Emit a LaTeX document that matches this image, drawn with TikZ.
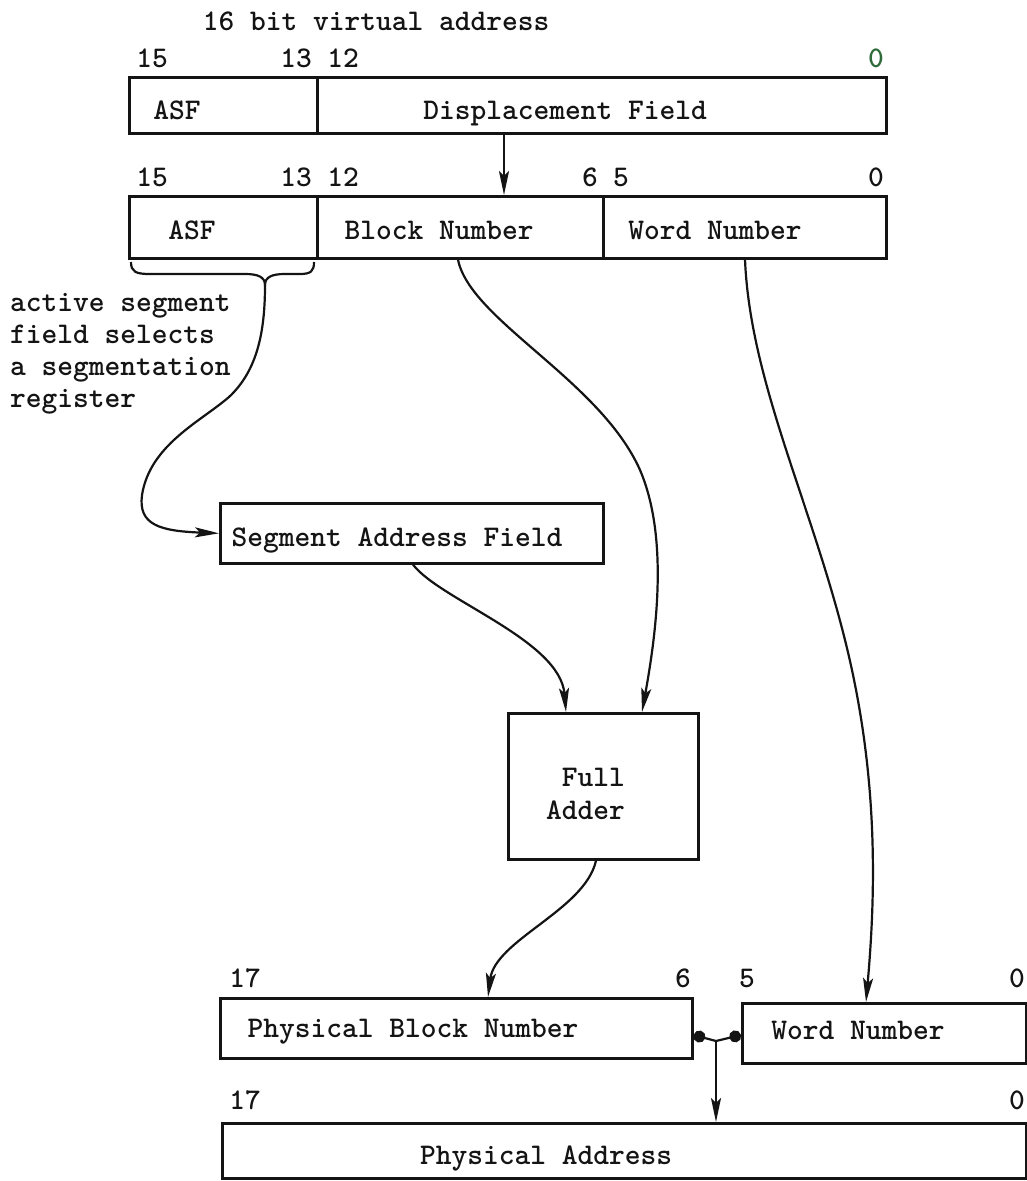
\documentclass[tikz,border=0pt]{standalone}
\usepackage{tikz}
\usepackage{xcolor}
\usetikzlibrary{positioning, arrows.meta, calc}
\definecolor{inkLine} {HTML}{141414}
\definecolor{inkGreen}{HTML}{2F6B3A}
\tikzset{
  regbox/.style={draw=inkLine, line width=2.6pt, inner sep=0pt, anchor=north west},
  lbl/.style={font=\fontsize{30}{33}\selectfont\ttfamily\bfseries, text=inkLine,
              inner sep=0pt, text height=18pt, text depth=0pt},
  flow/.style={draw=inkLine, line width=2.2pt,
               -{Stealth[length=24pt, width=10pt, inset=5pt]}},
}
\begin{document}
\begin{tikzpicture}[x=1pt, y=-1pt]
  \useasboundingbox (0,0) rectangle (1027,1181);
  \node[lbl] (vaTitle) at (376,21) {16 bit virtual address};

  % virtual address as it arrives
  \foreach \x/\b in {152/15, 296/13, 343/12}{
    \node[lbl] (bitA\b) at (\x,58) {\b};
  }
  \node[lbl, text=inkGreen] (bitA0) at (876,58) {0};
  \node[regbox, minimum width=188pt, minimum height=56pt] (asfTop)    at (128,76) {};
  \node[regbox, minimum width=569pt, minimum height=56pt] (dispField) at (316,76) {};
  \node[lbl] (asfTopTxt)  at (177,110) {ASF};
  \node[lbl] (dispTxt)    at (565,110) {Displacement Field};

  % same address split into block and word
  \foreach \x/\b in {152/15, 296/13, 343/12, 590/6, 621/5, 876/0}{
    \node[lbl] (bitB\b) at (\x,177) {\b};
  }
  \node[regbox, minimum width=188pt, minimum height=62pt] (asfMid)   at (128,195) {};
  \node[regbox, minimum width=286pt, minimum height=62pt] (blockNum) at (316,195) {};
  \node[regbox, minimum width=283pt, minimum height=62pt] (wordNum)  at (602,195) {};
  \node[lbl] (asfMidTxt)   at (192,230) {ASF};
  \node[lbl] (blockNumTxt) at (439,230) {Block Number};
  \node[lbl] (wordNumTxt)  at (715,230) {Word Number};

  \coordinate (dispTap) at ($(dispField.south west)+(188,0)$);
  \draw[flow] (dispTap) -- (dispTap |- blockNum.north);

  % brace under the ASF bits
  \coordinate (braceTip) at (265,285);
  \draw[inkLine, line width=2.2pt]
    (131,262) .. controls (131,272) and (136,274) .. (150,274) -- (245,274)
    .. controls (258,274) and (265,277) .. (braceTip)
    .. controls (265,277) and (272,274) .. (285,274) -- (300,274)
    .. controls (311,274) and (314,271) .. (314,262);
  \node[lbl, anchor=north west, align=left, font=\fontsize{30}{32}\selectfont\ttfamily\bfseries,
        text height=, text depth=] (asfNote) at (10,293)
    {active segment\\field selects\\a segmentation\\register};

  % segmentation register and adder
  \node[regbox, minimum width=383pt, minimum height=60pt] (segAddr)   at (219,502) {};
  \node[lbl] (segAddrTxt) at (397,537) {Segment Address Field};
  \node[regbox, minimum width=190pt, minimum height=146pt] (fullAdder) at (507,712) {};
  \node[lbl, anchor=east] (adderTxtA) at (625,777) {Full};
  \node[lbl, anchor=east] (adderTxtB) at (625,810) {Adder};

  \draw[flow] (braceTip) .. controls (265,330) and (258,370) .. (229,397)
    .. controls (200,422) and (150,445) .. (142,495)
    .. controls (138,525) and (160,531) .. (segAddr.west);
  \draw[flow] ($(segAddr.south west)+(194,0)$)
    .. controls (440,600) and (560,640) .. ($(fullAdder.north west)+(59,0)$);
  \draw[flow] ($(blockNum.south west)+(142,0)$)
    .. controls (470,320) and (600,380) .. (640,470)
    .. controls (670,540) and (655,640) .. ($(fullAdder.north west)+(135,0)$);

  % physical address
  \foreach \x/\b in {245/17, 683/6, 747/5, 1017/0}{
    \node[lbl] (bitC\b) at (\x,978) {\b};
  }
  \node[regbox, minimum width=472pt, minimum height=60pt] (physBlock) at (219,997) {};
  \node[regbox, minimum width=284pt, minimum height=60pt] (physWord)  at (741,1002) {};
  \node[lbl] (physBlockTxt) at (413,1028) {Physical Block Number};
  \node[lbl] (physWordTxt)  at (858,1030) {Word Number};

  \foreach \x/\b in {245/17, 1017/0}{
    \node[lbl] (bitD\b) at (\x,1100) {\b};
  }
  \node[regbox, minimum width=804pt, minimum height=55pt] (physAddr) at (221,1122) {};
  \node[lbl] (physAddrTxt) at (546,1155) {Physical Address};

  \draw[flow] ($(wordNum.south west)+(143,0)$)
    .. controls (750,380) and (810,500) .. (845,640)
    .. controls (880,780) and (875,900) .. ($(physWord.north west)+(125,0)$);
  \draw[flow] ($(fullAdder.south west)+(89,0)$)
    .. controls (585,910) and (495,940) .. ($(physBlock.north west)+(269,0)$);

  % the two halves join
  \coordinate (joinPt) at (716,1041);
  \draw[inkLine, line width=2.2pt, {Circle[length=12pt]}-{Circle[length=12pt]}]
    ($(physBlock.north east)+(0,38)$) -- (joinPt) -- ($(physWord.north west)+(0,33)$);
  \draw[flow] (joinPt) -- (joinPt |- physAddr.north);
\end{tikzpicture}
\end{document}
